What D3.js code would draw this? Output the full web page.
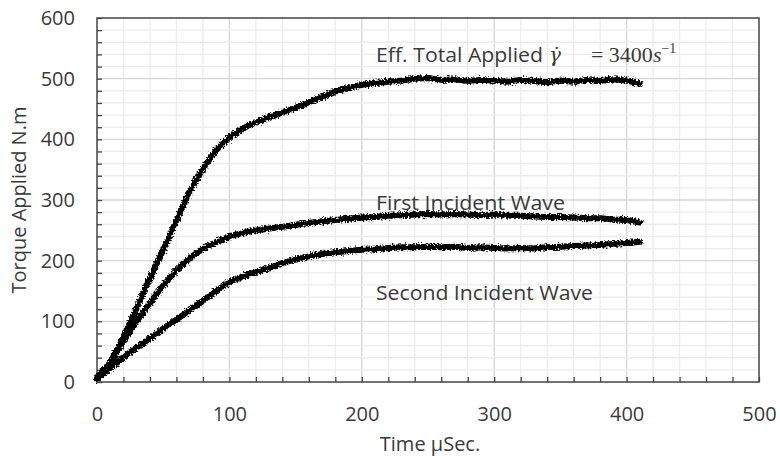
<!DOCTYPE html>
<html>
<head>
<meta charset="utf-8">
<script src="https://cdn.jsdelivr.net/npm/d3@7"></script>
<style>
  body { margin: 0; background: #fff; }
  svg text { fill: #3a3a3a; }
</style>
</head>
<body>
<div id="chart"></div>
<script>
// time in microseconds, sampled every 10 µs
const times = d3.range(0, 411, 10);

// torque values (N.m)
const totalApplied = [8, 32, 75, 122, 171, 218, 266, 315, 352, 382, 403, 418, 428, 437, 444, 452, 461, 470, 479, 485,
  490, 493, 495, 497, 500, 501, 498, 499, 496, 498, 497, 495, 498, 496, 494, 497, 495, 498, 496, 499, 497, 492];
const firstWave = [5, 30, 68, 100, 130, 159, 184, 204, 220, 231, 240, 246, 250, 253, 256, 259, 262, 265, 267, 269,
  271, 272, 274, 275, 276, 277, 276, 277, 276, 275, 276, 274, 274, 273, 272, 272, 271, 270, 270, 268, 267, 263];
const secondWave = [5, 22, 41, 57, 72, 88, 103, 118, 134, 150, 165, 174, 181, 188, 196, 202, 207, 211, 214, 216,
  218, 219, 221, 222, 222, 223, 222, 223, 221, 222, 221, 220, 221, 220, 222, 223, 224, 225, 226, 228, 229, 231];

const seriesList = [totalApplied, firstWave, secondWave];

const xTicks = [0, 100, 200, 300, 400, 500];
const yTicks = [0, 100, 200, 300, 400, 500, 600];

const width = 780, height = 463;
const margin = { top: 18, right: 21, bottom: 81, left: 97 };
const sans = "'Open Sans', 'Noto Sans', sans-serif";
const serif = "'Liberation Serif', 'DejaVu Serif', serif";

const x = d3.scaleLinear().domain([0, 500]).range([margin.left, width - margin.right]);
const y = d3.scaleLinear().domain([0, 600]).range([height - margin.bottom, margin.top]);

const svg = d3.select("#chart").append("svg")
  .attr("width", width)
  .attr("height", height)
  .style("font-family", sans);

// jagged look of the measured signal
const defs = svg.append("defs");
const filt = defs.append("filter").attr("id", "rough")
  .attr("x", "-5%").attr("y", "-5%").attr("width", "110%").attr("height", "110%");
filt.append("feTurbulence").attr("type", "fractalNoise").attr("baseFrequency", 0.6)
  .attr("numOctaves", 2).attr("seed", 3).attr("result", "noise");
filt.append("feDisplacementMap").attr("in", "SourceGraphic").attr("in2", "noise")
  .attr("scale", 6).attr("xChannelSelector", "R").attr("yChannelSelector", "G");

// grid: minor every 20, major every 100
const grid = svg.append("g");
grid.selectAll(".v").data(d3.range(20, 500, 20))
  .join("line")
  .attr("x1", d => x(d)).attr("x2", d => x(d))
  .attr("y1", y(0)).attr("y2", y(600))
  .attr("stroke", d => d % 100 === 0 ? "#d6d6d6" : "#ececec")
  .attr("stroke-width", 1.3);
grid.selectAll(".h").data(d3.range(20, 600, 20))
  .join("line")
  .attr("x1", x(0)).attr("x2", x(500))
  .attr("y1", d => y(d)).attr("y2", d => y(d))
  .attr("stroke", d => d % 100 === 0 ? "#d6d6d6" : "#ececec")
  .attr("stroke-width", 1.3);

// frame
svg.append("rect")
  .attr("x", x(0)).attr("y", y(600))
  .attr("width", x(500) - x(0)).attr("height", y(0) - y(600))
  .attr("fill", "none").attr("stroke", "#444").attr("stroke-width", 1.5);

// inside minor ticks
const yMinor = d3.axisLeft(y).tickValues(d3.range(0, 601, 20)).tickSize(-5).tickFormat("");
svg.append("g").attr("transform", `translate(${x(0)},0)`).call(yMinor)
  .call(g => g.select(".domain").remove())
  .call(g => g.selectAll("line").attr("stroke", "#444").attr("stroke-width", 1.3));
const xMinor = d3.axisBottom(x).tickValues(d3.range(0, 501, 20)).tickSize(-5).tickFormat("");
svg.append("g").attr("transform", `translate(0,${y(0)})`).call(xMinor)
  .call(g => g.select(".domain").remove())
  .call(g => g.selectAll("line").attr("stroke", "#444").attr("stroke-width", 1.3));

// tick labels
const yAxis = d3.axisLeft(y).tickValues(yTicks).tickSize(0).tickPadding(22);
svg.append("g").attr("transform", `translate(${x(0)},0)`).call(yAxis)
  .call(g => g.select(".domain").remove())
  .call(g => g.selectAll("text").attr("font-size", 20).style("font-family", sans).attr("fill", "#3a3a3a"));
const xAxis = d3.axisBottom(x).tickValues(xTicks).tickSize(0).tickPadding(25);
svg.append("g").attr("transform", `translate(0,${y(0)})`).call(xAxis)
  .call(g => g.select(".domain").remove())
  .call(g => g.selectAll("text").attr("font-size", 20).style("font-family", sans).attr("fill", "#3a3a3a"));

// axis titles
svg.append("text")
  .attr("x", 430).attr("y", 451)
  .attr("text-anchor", "middle").attr("font-size", 20)
  .text("Time µSec.");
svg.append("text")
  .attr("transform", `translate(26,${y(300)}) rotate(-90)`)
  .attr("text-anchor", "middle").attr("font-size", 20)
  .text("Torque Applied N.m");

// curves
const line = d3.line()
  .x((d, i) => x(times[i]))
  .y(d => y(d));

svg.append("g").attr("filter", "url(#rough)")
  .selectAll("path").data(seriesList)
  .join("path")
  .attr("d", line)
  .attr("fill", "none")
  .attr("stroke", "#000")
  .attr("stroke-width", 6)
  .attr("stroke-linejoin", "round")
  .attr("stroke-linecap", "round");

// annotations
svg.append("text").attr("x", 376).attr("y", 62).attr("font-size", 20)
  .attr("textLength", 167).attr("lengthAdjust", "spacingAndGlyphs")
  .text("Eff. Total Applied");
const eq = svg.append("text").attr("x", 549).attr("y", 62).attr("font-size", 22)
  .style("font-family", serif);
eq.append("tspan").attr("font-style", "italic").attr("font-size", 20)
  .style("font-family", "'DejaVu Serif', serif").text("γ̇");
eq.append("tspan").attr("dx", 30).text("= 3400");
eq.append("tspan").attr("font-style", "italic").text("s");
eq.append("tspan").attr("dy", -9).attr("font-size", 14).text("−1");

svg.append("text").attr("x", 376).attr("y", 210).attr("font-size", 20)
  .attr("textLength", 189).attr("lengthAdjust", "spacingAndGlyphs")
  .text("First Incident Wave");
svg.append("text").attr("x", 376).attr("y", 300).attr("font-size", 20)
  .attr("textLength", 217).attr("lengthAdjust", "spacingAndGlyphs")
  .text("Second Incident Wave");
</script>
</body>
</html>
